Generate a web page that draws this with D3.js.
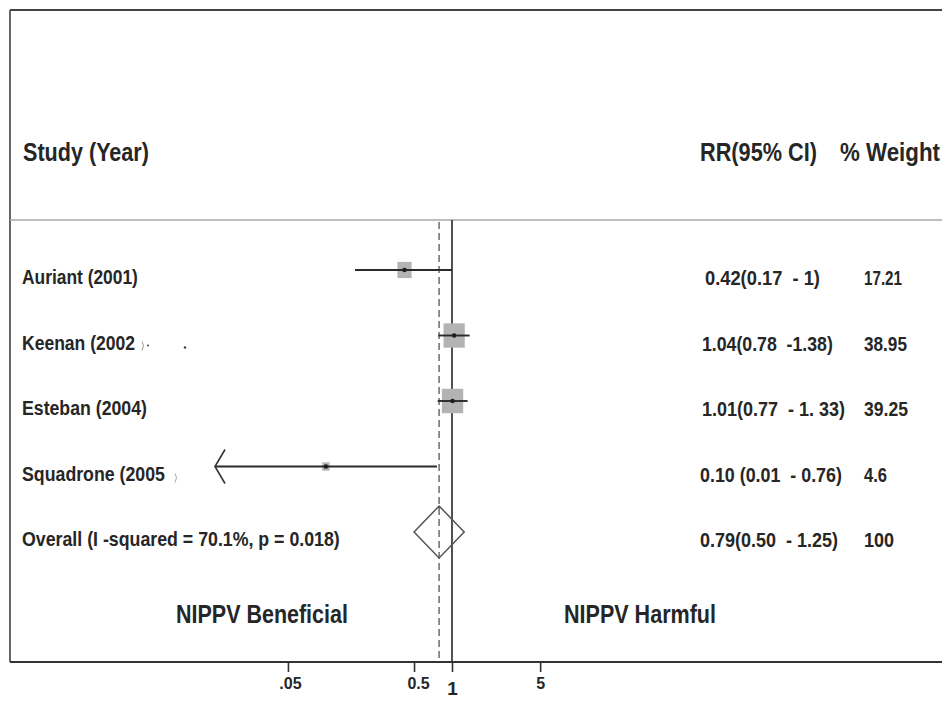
<!DOCTYPE html>
<html>
<head>
<meta charset="utf-8">
<script src="https://cdn.jsdelivr.net/npm/d3@7/dist/d3.min.js"></script>
<style>
  html, body { margin: 0; padding: 0; background: #ffffff; }
  svg { display: block; }
  text { font-family: 'Liberation Sans', Arial, Helvetica, sans-serif; font-weight: bold; fill: #262626; white-space: pre; }
</style>
</head>
<body>
<svg id="chart" width="942" height="701"></svg>
<script>
// ---------- data ----------
const studies = ["Auriant (2001)", "Keenan (2002", "Esteban (2004)", "Squadrone (2005", "Overall (I -squared = 70.1%, p = 0.018)"];
const rr      = [0.42, 1.04, 1.01, 0.10, 0.79];
const lower   = [0.17, 0.78, 0.77, 0.01, 0.50];
const upper   = [1.00, 1.38, 1.33, 0.76, 1.25];
const weights = [17.21, 38.95, 39.25, 4.6, 100];
const ciLabels = ["0.42(0.17  - 1)", "1.04(0.78  -1.38)", "1.01(0.77  - 1. 33)", "0.10 (0.01  - 0.76)", "0.79(0.50  - 1.25)"];
const weightLabels = ["17.21", "38.95", "39.25", "4.6", "100"];
const tickValues = [0.05, 0.5, 1, 5];
const tickLabels = [".05", "0.5", "1", "5"];
const overallIndex = 4;
const overallRR = 0.79;

// ---------- layout ----------
const svg = d3.select("#chart");
const frameLeft = 10, frameTop = 10, headerY = 220, axisY = 662, W = 942;

const x = d3.scaleLog().domain([0.0132, 1 / 0.0132]).range([215, 689]);
const y = d3.scalePoint().domain(d3.range(studies.length)).range([270, 532]);
const boxW = d3.scaleSqrt().domain([0, 100]).range([0, 34]);
const boxH = d3.scaleSqrt().domain([0, 100]).range([0, 39]);

// text helper: place text and squeeze horizontally to a target width
function fitText(str, tx, ty, size, width, anchor) {
  const t = svg.append("text").attr("font-size", size).text(str);
  const w = t.node().getComputedTextLength();
  const sx = width / w;
  const x0 = anchor === "middle" ? tx - width / 2 : tx;
  t.attr("transform", `translate(${x0},${ty}) scale(${sx},1)`);
  return t;
}

// frame
svg.append("line").attr("x1", frameLeft).attr("x2", W).attr("y1", frameTop).attr("y2", frameTop)
  .attr("stroke", "#444").attr("stroke-width", 2.2);
svg.append("line").attr("x1", frameLeft).attr("x2", frameLeft).attr("y1", frameTop).attr("y2", axisY)
  .attr("stroke", "#555").attr("stroke-width", 1.8);
svg.append("line").attr("x1", frameLeft).attr("x2", W).attr("y1", headerY).attr("y2", headerY)
  .attr("stroke", "#a8a8a8").attr("stroke-width", 1.6);

// header
fitText("Study (Year)", 23, 161, 25, 126);
fitText("RR(95% CI)", 700, 161, 25, 117);
fitText("% Weight", 840, 161, 25, 100);

// reference lines
svg.append("line").attr("x1", x(1)).attr("x2", x(1)).attr("y1", headerY).attr("y2", axisY)
  .attr("stroke", "#333").attr("stroke-width", 1.7);
svg.append("line").attr("x1", x(overallRR)).attr("x2", x(overallRR)).attr("y1", headerY + 2).attr("y2", axisY - 2)
  .attr("stroke", "#555").attr("stroke-width", 1.3).attr("stroke-dasharray", "7,4");

// study rows
const studyIdx = d3.range(studies.length).filter(i => i !== overallIndex);
const [xmin] = x.domain();

studyIdx.forEach(i => {
  const cy = y(i);
  const lo = Math.max(lower[i], xmin);
  svg.append("rect")
    .attr("x", x(rr[i]) - boxW(weights[i]) / 2).attr("y", cy - boxH(weights[i]) / 2)
    .attr("width", boxW(weights[i])).attr("height", boxH(weights[i]))
    .attr("fill", "#b3b3b3");
  svg.append("line").attr("x1", x(lo)).attr("x2", x(upper[i])).attr("y1", cy).attr("y2", cy)
    .attr("stroke", "#2a2a2a").attr("stroke-width", 1.9);
  svg.append("circle").attr("cx", x(rr[i])).attr("cy", cy).attr("r", 2.3).attr("fill", "#1e1e1e");
  if (lower[i] < xmin) {
    const tip = x(xmin);
    svg.append("path")
      .attr("d", d3.line()([[tip + 10, cy - 17], [tip, cy], [tip + 10, cy + 17]]))
      .attr("fill", "none").attr("stroke", "#333").attr("stroke-width", 1.6);
  }
});

// overall diamond
{
  const cy = y(overallIndex);
  const pts = [[x(lower[overallIndex]), cy], [x(rr[overallIndex]), cy - 26], [x(upper[overallIndex]), cy], [x(rr[overallIndex]), cy + 26]];
  svg.append("path").attr("d", d3.line()(pts) + "Z")
    .attr("fill", "none").attr("stroke", "#555").attr("stroke-width", 1.5);
}

// left labels
const labelWidths = [116, 113, 125, 143, 318];
studies.forEach((s, i) => fitText(s, 22, y(i) + 14, 21, labelWidths[i]));

// scan residue marks next to some labels (drawn as tiny marks)
svg.append("path").attr("d", `M142,${y(1) + 6} q3,4 0,9`).attr("fill", "none").attr("stroke", "#999").attr("stroke-width", 1);
svg.append("circle").attr("cx", 148).attr("cy", y(1) + 10).attr("r", 1.1).attr("fill", "#555");
svg.append("circle").attr("cx", 185).attr("cy", y(1) + 12).attr("r", 1.3).attr("fill", "#444");
svg.append("path").attr("d", `M175,${y(3) + 7} q3,4 0,9`).attr("fill", "none").attr("stroke", "#aaa").attr("stroke-width", 1);

// right columns
const ciWidths = [115, 131, 143, 142, 138];
const ciX = [705, 702, 702, 700, 700];
ciLabels.forEach((s, i) => fitText(s, ciX[i], y(i) + 15, 21, ciWidths[i]));
const wWidths = [38, 43, 44, 23, 30];
weightLabels.forEach((s, i) => fitText(s, 864, y(i) + 15, 21, wWidths[i]));

// favour labels
fitText("NIPPV Beneficial", 262, 623, 25, 172, "middle");
fitText("NIPPV Harmful", 640, 623, 25, 152, "middle");

// axis
const axis = d3.axisBottom(x).tickValues(tickValues).tickFormat((d, i) => tickLabels[i]).tickSize(10).tickSizeOuter(0);
const gAxis = svg.append("g").attr("transform", `translate(0,${axisY})`).call(axis);
gAxis.select(".domain").attr("d", `M${frameLeft},0H${W}`).attr("stroke", "#333").attr("stroke-width", 2);
gAxis.selectAll(".tick line").attr("stroke", "#333").attr("stroke-width", 1.6);
gAxis.selectAll(".tick text")
  .attr("y", 27).attr("dy", 0)
  .attr("x", d => (d === 0.5 ? 4 : d === 0.05 ? 2 : 0))
  .attr("font-size", d => d === 1 ? 19 : 16)
  .attr("font-family", "'Liberation Sans', Arial, sans-serif")
  .attr("font-weight", "bold")
  .attr("fill", "#262626")
  .attr("transform", d => d === 1 ? "translate(0,6)" : null);
</script>
</body>
</html>
